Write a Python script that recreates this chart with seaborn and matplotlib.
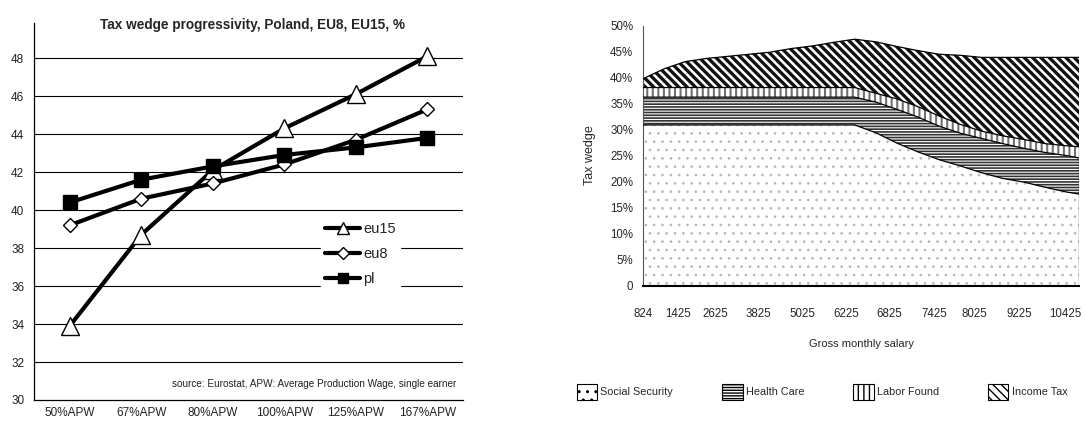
import matplotlib
matplotlib.use("Agg")
import matplotlib as mpl
import matplotlib.pyplot as plt
import seaborn as sns
import pandas as pd
import numpy as np
from matplotlib.patches import Patch
from matplotlib.lines import Line2D

# ---------------- data: left chart ----------------
categories = ["50%APW", "67%APW", "80%APW", "100%APW", "125%APW", "167%APW"]
eu15 = [33.9, 38.7, 42.1, 44.3, 46.1, 48.1]
eu8 = [39.2, 40.6, 41.4, 42.4, 43.7, 45.3]
pl = [40.4, 41.6, 42.3, 42.9, 43.3, 43.8]

# ---------------- data: right chart ----------------
salary_labels = ["824", "1425", "2625", "3825", "5025", "6225", "6825",
                 "7425", "8025", "9225", "10425"]
# position of each sample along the salary (category) axis
salary_pos = [0, 0.5, 1, 1.5, 2, 2.5, 3, 3.5, 4, 4.5, 5, 5.5, 6, 6.5, 7,
              7.5, 8, 8.5, 9, 9.5, 10, 10.3]
social_security = [30.9, 30.9, 30.9, 30.9, 30.9, 30.9, 30.9, 30.9, 30.9, 30.9,
                   30.9, 29.4, 27.4, 25.7, 24.2, 23.0, 21.7, 20.6, 19.9, 18.9,
                   18.0, 17.6]
health_care = [5.35, 5.35, 5.35, 5.35, 5.35, 5.35, 5.35, 5.35, 5.35, 5.35,
               5.35, 5.9, 6.5, 6.7, 6.45, 6.3, 6.6, 6.7, 6.5, 6.7, 7.0, 6.95]
labor_fund = [1.85, 1.85, 1.85, 1.85, 1.85, 1.85, 1.85, 1.85, 1.85, 1.85,
              1.85, 1.7, 2.0, 2.0, 1.95, 1.7, 1.4, 1.5, 1.7, 1.7, 1.9, 2.15]
income_tax = [1.7, 3.6, 5.0, 5.6, 6.0, 6.4, 6.8, 7.5, 8.0, 8.7, 9.3, 9.9,
              10.1, 10.8, 11.9, 13.3, 14.2, 15.1, 15.8, 16.6, 17.0, 17.2]
component_names = ["Social Security", "Health Care", "Labor Found", "Income Tax"]

sns.set_style("white")
plt.rcParams["font.family"] = ["Liberation Sans", "DejaVu Sans"]
narrow = ["Liberation Sans Narrow", "Liberation Sans", "DejaVu Sans"]

fig = plt.figure(figsize=(10.85, 4.25), dpi=100)

# ================= LEFT CHART =================
axL = fig.add_axes([34 / 1085, 1 - 400 / 425, (463 - 34) / 1085, (400 - 23) / 425])
xidx = np.arange(len(categories))
df = pd.DataFrame({"x": np.tile(xidx, 3),
                   "value": eu15 + eu8 + pl,
                   "series": ["eu15"] * 6 + ["eu8"] * 6 + ["pl"] * 6})
styles = {
    "eu15": dict(marker="^", ms=13, mfc="white"),
    "eu8": dict(marker="D", ms=7, mfc="white"),
    "pl": dict(marker="s", ms=10.5, mfc="black"),
}
for name in ["eu15", "eu8", "pl"]:
    sns.lineplot(data=df[df["series"] == name], x="x", y="value", ax=axL,
                 color="black", lw=3, mec="black", mew=1, sort=False,
                 legend=False, zorder=3, **styles[name])

axL.set_xlim(-0.5, len(categories) - 0.5)
axL.set_ylim(30, 49.85)
axL.set_yticks(np.arange(30, 49, 2))
axL.set_yticklabels([str(v) for v in range(30, 49, 2)], fontsize=8.5, color="#222222")
axL.set_xticks(xidx)
axL.set_xticklabels(categories, fontsize=8.5, color="#222222")
axL.set_xticks(np.arange(-0.5, len(categories), 1), minor=True)
axL.tick_params(axis="x", which="major", length=0, pad=5)
axL.tick_params(axis="x", which="minor", length=4, color="black", width=0.8, direction="out")
axL.tick_params(axis="y", length=3, color="black", width=0.8, direction="out", pad=4)
axL.set_xlabel("")
axL.set_ylabel("")
for y in range(32, 49, 2):
    axL.axhline(y, color="black", lw=0.8, zorder=1)
for s in ["top", "right"]:
    axL.spines[s].set_visible(False)
for s in ["left", "bottom"]:
    axL.spines[s].set_color("black")
    axL.spines[s].set_linewidth(0.9)
axL.text(0.51, 0.995, "Tax wedge progressivity, Poland, EU8, EU15, %", fontsize=9.8,
         fontweight="bold", ha="center", va="center", transform=axL.transAxes)
axL.text(0.985, 0.03, "source: Eurostat, APW: Average Production Wage, single earner",
         transform=axL.transAxes, ha="right", va="bottom", fontsize=7.2, color="#222222")

leg_handles = [
    Line2D([], [], color="black", lw=3, marker="^", ms=9, mfc="white", mec="black"),
    Line2D([], [], color="black", lw=3, marker="D", ms=6, mfc="white", mec="black"),
    Line2D([], [], color="black", lw=3, marker="s", ms=7, mfc="black", mec="black"),
]
legL = axL.legend(leg_handles, ["eu15", "eu8", "pl"], loc="upper left",
                  bbox_to_anchor=(0.669, 0.484), borderaxespad=0, frameon=True,
                  fancybox=False, framealpha=1, edgecolor="white", facecolor="white",
                  fontsize=10.5, handlelength=2.4, handletextpad=0.2, labelspacing=0.75,
                  borderpad=0.3)
legL.set_zorder(5)

# ================= RIGHT CHART =================
axR = fig.add_axes([643 / 1085, 1 - 285.5 / 425, (1079 - 643) / 1085, (285.5 - 25.7) / 425])
layers = [social_security, health_care, labor_fund, income_tax]
hatches = ["..", "------", "|||", "\\\\\\\\"]
hatch_cols = ["#b8b8b8", "#333333", "#707070", "#111111"]
hatch_lws = [0.7, 1.2, 1.5, 2.4]
bottom = np.zeros(len(salary_pos))
for vals, h, hc, hl in zip(layers, hatches, hatch_cols, hatch_lws):
    top = bottom + np.array(vals)
    with mpl.rc_context({"hatch.color": hc, "hatch.linewidth": hl}):
        coll = axR.fill_between(salary_pos, bottom, top, facecolor="white",
                                edgecolor=hc, hatch=h, linewidth=0, zorder=2)
    if hasattr(coll, "set_hatch_linewidth"):
        coll.set_hatch_linewidth(hl)
    axR.plot(salary_pos, top, color="black", lw=0.9, zorder=3)
    bottom = top
axR.plot([salary_pos[-1], salary_pos[-1]], [0, bottom[-1]], color="black", lw=0.9, zorder=3)

axR.set_xlim(salary_pos[0], salary_pos[-1])
axR.set_ylim(0, 50)
yt = np.arange(0, 51, 5)
axR.set_yticks(yt)
axR.set_yticklabels(["0"] + [f"{v}%" for v in yt[1:]], fontsize=8.3, family=narrow)
tick_pos = [0, 0.83, 1.70, 2.72, 3.76, 4.80, 5.82, 6.88, 7.83, 8.89, 9.98]
axR.set_xticks(tick_pos)
axR.set_xticklabels(salary_labels, fontsize=8.3, family=narrow)
axR.tick_params(axis="x", length=0, pad=16)
axR.tick_params(axis="y", length=3, color="#333333", width=0.8, direction="out", pad=4)
for s in ["top", "right"]:
    axR.spines[s].set_visible(False)
axR.spines["left"].set_color("#555555")
axR.spines["left"].set_linewidth(0.8)
axR.spines["bottom"].set_color("black")
axR.spines["bottom"].set_linewidth(1.5)
axR.set_ylabel("Tax wedge", fontsize=9, labelpad=10)
axR.set_xlabel("Gross monthly salary", fontsize=8, family=narrow, labelpad=14)

leg_patches = []
for name, h, hl in zip(component_names, hatches, hatch_lws):
    with mpl.rc_context({"hatch.linewidth": hl}):
        p = Patch(facecolor="white", edgecolor="black", hatch=h, linewidth=0.8)
    leg_patches.append(p)
fig.legend(leg_patches, component_names, loc="center", bbox_to_anchor=(822 / 1085, 1 - 392 / 425),
           ncol=4, frameon=False, prop={"family": narrow, "size": 7.8},
           handlelength=1.9, handleheight=1.8, handletextpad=0.3, columnspacing=4.5)

fig.savefig("out.png", dpi=100)
